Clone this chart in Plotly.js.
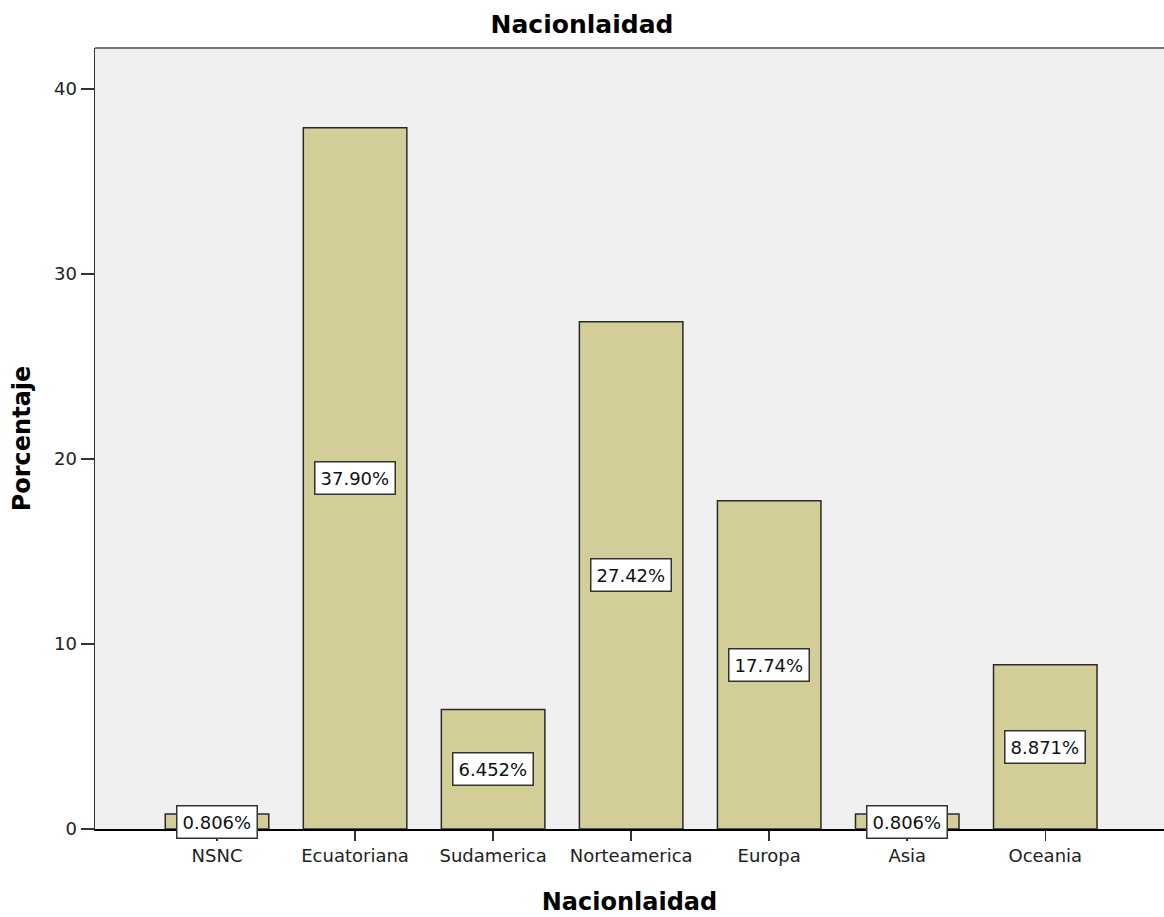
<!DOCTYPE html>
<html>
<head>
<meta charset="utf-8">
<script src="https://cdn.plot.ly/plotly-3.0.1.min.js"></script>
<style>html,body{margin:0;padding:0;background:#fff;}#chart{width:1164px;height:917px;}</style>
</head>
<body>
<div id="chart"></div>
<script>
const categories = ["NSNC", "Ecuatoriana", "Sudamerica", "Norteamerica", "Europa", "Asia", "Oceania"];
const percentages = [0.806, 37.90, 6.452, 27.42, 17.74, 0.806, 8.871];
const barLabels = ["0.806%", "37.90%", "6.452%", "27.42%", "17.74%", "0.806%", "8.871%"];
const yTicks = [0, 10, 20, 30, 40];

const font = "'DejaVu Sans', Arial, sans-serif";

const trace = {
  type: "bar",
  x: categories.map((c, i) => i),
  y: percentages,
  width: 0.75,
  marker: { color: "#d3ce97", line: { color: "#2a2a2a", width: 1.5 } },
  hoverinfo: "none"
};

const annotations = percentages.map((v, i) => ({
  x: i, y: v / 2, xref: "x", yref: "y",
  text: barLabels[i], showarrow: false,
  font: { family: font, size: 18, color: "#111" },
  bgcolor: "#ffffff", bordercolor: "#333333", borderwidth: 1.5, borderpad: 5
}));

const layout = {
  width: 1164, height: 917,
  margin: { l: 95, r: 0, t: 48, b: 88 },
  paper_bgcolor: "#ffffff",
  plot_bgcolor: "#f0f0f0",
  showlegend: false,
  title: { text: "Nacionlaidad", font: { family: font, size: 25, color: "#000", weight: "bold" }, x: 0.5, xanchor: "center", y: 0.974, yanchor: "middle" },
  xaxis: {
    range: [-0.884, 6.86],
    tickmode: "array", tickvals: categories.map((c, i) => i), ticktext: categories,
    ticks: "outside", ticklen: 10, tickwidth: 1.5, tickcolor: "#333",
    showline: true, linecolor: "#000", linewidth: 1.5,
    showgrid: false, zeroline: false,
    tickfont: { family: font, size: 18, color: "#222" },
    title: { text: "Nacionlaidad", font: { family: font, size: 24, color: "#000", weight: "bold" }, standoff: 28 }
  },
  yaxis: {
    range: [0, 42.21],
    tickmode: "array", tickvals: yTicks,
    ticks: "outside", ticklen: 13, tickwidth: 1.5, tickcolor: "#333",
    showline: true, linecolor: "#333", linewidth: 1.5,
    showgrid: false, zeroline: false,
    tickfont: { family: font, size: 18, color: "#222" },
    title: { text: "Porcentaje", font: { family: font, size: 24, color: "#000", weight: "bold" }, standoff: 16 }
  },
  shapes: [{
    type: "line", xref: "paper", yref: "paper", x0: 0, x1: 1, y0: 1, y1: 1,
    line: { color: "#777", width: 2 }
  }],
  annotations: annotations
};

Plotly.newPlot("chart", [trace], layout, { staticPlot: true, displayModeBar: false });
</script>
</body>
</html>
